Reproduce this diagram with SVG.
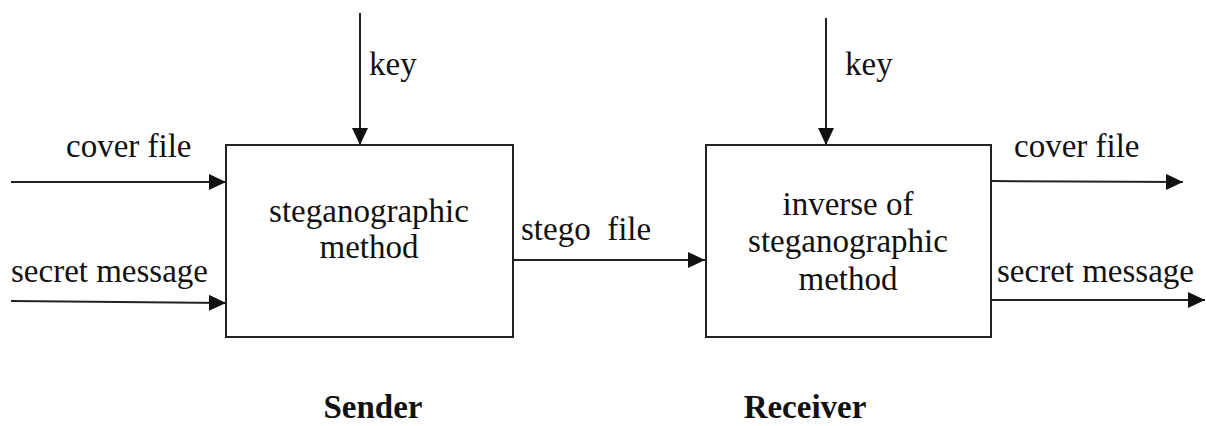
<svg xmlns="http://www.w3.org/2000/svg" width="1206" height="426" viewBox="0 0 1206 426">
<style>
.t{font-family:"Liberation Serif","Times New Roman",serif;font-size:33px;fill:#111}
.c{text-anchor:middle}
.b{font-weight:bold}
.box{fill:#fff;stroke:#222;stroke-width:2}
.ln{stroke:#222;stroke-width:2;fill:none;marker-end:url(#ah)}
</style>
<defs>
<marker id="ah" viewBox="0 0 17 16" refX="17" refY="8" markerWidth="17" markerHeight="16" markerUnits="userSpaceOnUse" orient="auto">
<path d="M0,0 L17,8 L0,16 Z" fill="#111"/>
</marker>
</defs>
<rect width="1206" height="426" fill="#fff"/>
<g id="connectors">
<line class="ln" x1="360" y1="13" x2="360" y2="145"/>
<line class="ln" x1="11" y1="182" x2="226" y2="182"/>
<line class="ln" x1="11" y1="301" x2="226" y2="303"/>
<line class="ln" x1="513" y1="260" x2="705" y2="260"/>
<line class="ln" x1="826" y1="18" x2="826" y2="145"/>
<line class="ln" x1="991" y1="181" x2="1183" y2="182"/>
<line class="ln" x1="991" y1="300" x2="1205" y2="300"/>
</g>
<g id="sender-box">
<rect class="box" x="226" y="145" width="287" height="192"/>
<text class="t c" x="369" y="222">steganographic</text>
<text class="t c" x="369" y="258">method</text>
</g>
<g id="receiver-box">
<rect class="box" x="706" y="145" width="285" height="192"/>
<text class="t c" x="848" y="215">inverse of</text>
<text class="t c" x="848" y="252">steganographic</text>
<text class="t c" x="848" y="290">method</text>
</g>
<g id="labels">
<text class="t" x="369" y="75">key</text>
<text class="t" x="845" y="75">key</text>
<text class="t" x="66" y="157">cover file</text>
<text class="t" x="11" y="282">secret message</text>
<text class="t" x="521" y="240" xml:space="preserve">stego  file</text>
<text class="t" x="1014" y="157">cover file</text>
<text class="t" x="997" y="282">secret message</text>
<text class="t b c" x="373" y="418">Sender</text>
<text class="t b c" x="805" y="418">Receiver</text>
</g>
</svg>
